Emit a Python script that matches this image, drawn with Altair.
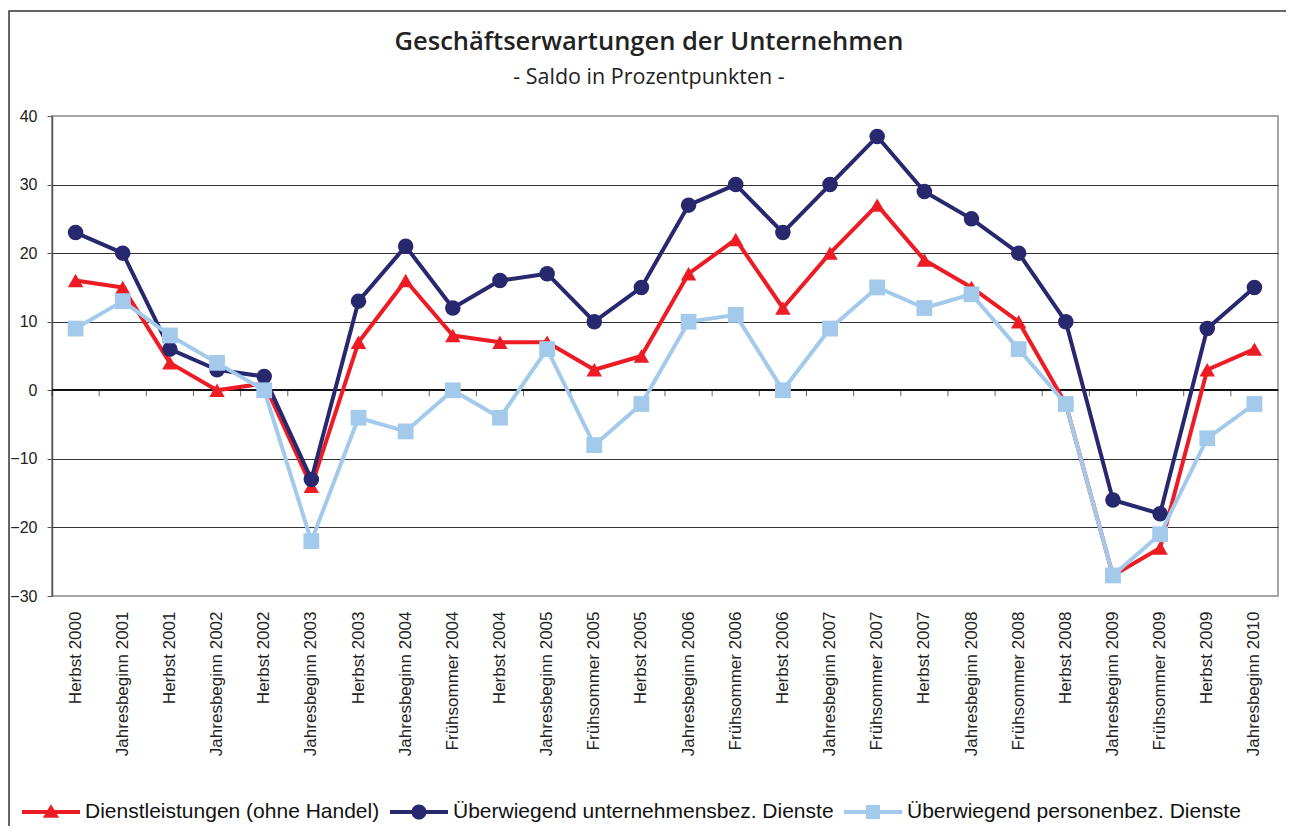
import altair as alt
import pandas as pd

categories = ["Herbst 2000", "Jahresbeginn 2001", "Herbst 2001", "Jahresbeginn 2002", "Herbst 2002",
              "Jahresbeginn 2003", "Herbst 2003", "Jahresbeginn 2004", "Frühsommer 2004", "Herbst 2004",
              "Jahresbeginn 2005", "Frühsommer 2005", "Herbst 2005", "Jahresbeginn 2006", "Frühsommer 2006",
              "Herbst 2006", "Jahresbeginn 2007", "Frühsommer 2007", "Herbst 2007", "Jahresbeginn 2008",
              "Frühsommer 2008", "Herbst 2008", "Jahresbeginn 2009", "Frühsommer 2009", "Herbst 2009",
              "Jahresbeginn 2010"]
dienstleistungen = [16, 15, 4, 0, 1, -14, 7, 16, 8, 7, 7, 3, 5, 17, 22, 12, 20, 27, 19, 15, 10, -2, -27, -23, 3, 6]
unternehmensbez = [23, 20, 6, 3, 2, -13, 13, 21, 12, 16, 17, 10, 15, 27, 30, 23, 30, 37, 29, 25, 20, 10, -16, -18, 9, 15]
personenbez = [9, 13, 8, 4, 0, -22, -4, -6, 0, -4, 6, -8, -2, 10, 11, 0, 9, 15, 12, 14, 6, -2, -27, -21, -7, -2]

series_names = ["Dienstleistungen (ohne Handel)",
                "Überwiegend unternehmensbez. Dienste",
                "Überwiegend personenbez. Dienste"]
series_values = [dienstleistungen, unternehmensbez, personenbez]
colors = ["#ED1C24", "#28286E", "#A3CAEB"]
shapes = ["triangle-up", "circle", "square"]
y_ticks = [-30, -20, -10, 0, 10, 20, 30, 40]

rows = []
for name, vals in zip(series_names, series_values):
    for c, v in zip(categories, vals):
        rows.append({"Kategorie": c, "Reihe": name, "Wert": v})
df = pd.DataFrame(rows)
cat_df = pd.DataFrame({"Kategorie": categories, "Null": [0] * len(categories)})

W, H = 1226, 480
y_min, y_max = -30, 40

# legend symbol paths (line + marker), unit = half symbol width
line_path = "M-1,-0.07H1V0.07H-1Z"
marker_paths = [
    "M0,-0.27L0.28,0.2H-0.28Z",
    "M-0.26,0A0.26,0.26 0 0,1 0.26,0A0.26,0.26 0 0,1 -0.26,0Z",
    "M-0.24,-0.24H0.24V0.24H-0.24Z",
]
legend_paths = [line_path + m for m in marker_paths]

legend = alt.Legend(
    orient="none", legendX=-30, legendY=667, direction="horizontal", columns=3,
    title=None, symbolSize=3364, labelFont="Liberation Sans", labelFontSize=21,
    labelColor="#111", labelOffset=5, columnPadding=10, padding=0, labelLimit=500,
    symbolStrokeWidth=0, symbolOpacity=1,
)

color_scale = alt.Scale(domain=series_names, range=colors)
shape_scale = alt.Scale(domain=series_names, range=legend_paths)
x_scale = alt.Scale(type="band", paddingInner=0, paddingOuter=0)
y_scale = alt.Scale(domain=[y_min, y_max], nice=False, zero=False)

x_label_axis = alt.Axis(labelAngle=-90, ticks=False, domain=False, grid=False, labelPadding=15,
                        title=None, labelFont="Liberation Sans", labelFontSize=17, labelColor="#222")
y_axis = alt.Axis(values=y_ticks, grid=True,
                  gridColor={"condition": {"test": "datum.value === 40 || datum.value === -30",
                                           "value": "#a6a6a6"}, "value": "#333"},
                  gridWidth=1, domain=True, domainColor="#555", domainWidth=1.5,
                  ticks=True, tickColor="#555", tickSize=5, labelFont="Liberation Sans",
                  labelFontSize=16, labelColor="#222", labelPadding=10, title=None)

x_enc = alt.X("Kategorie:N", sort=categories, scale=x_scale, axis=x_label_axis)
y_enc = alt.Y("Wert:Q", scale=y_scale, axis=y_axis)

# zero line with category boundary ticks
zero_line = alt.Chart(cat_df).mark_rule(color="#111", strokeWidth=1.5).encode(
    y=alt.Y("Null:Q", scale=y_scale), x=alt.value(0), x2=alt.value(W)
)
zero_ticks = alt.Chart(cat_df).mark_tick(orient="vertical", color="#222", thickness=1, size=6,
                                         yOffset=3).encode(
    x=alt.X("Kategorie:N", sort=categories, scale=x_scale, bandPosition=0),
    y=alt.Y("Null:Q", scale=y_scale),
)

layers = [zero_line, zero_ticks]
for i, name in enumerate(series_names):
    sub = alt.Chart(df).transform_filter(alt.datum.Reihe == name)
    line = sub.mark_line(strokeWidth=4, strokeJoin="round", color=colors[i]).encode(
        x=x_enc, y=y_enc,
    )
    pts = sub.mark_point(shape=shapes[i], filled=True, opacity=1, size=240 if i != 2 else 250,
                         color=colors[i]).encode(x=x_enc, y=y_enc)
    layers += [line, pts]

# empty layer that only carries the legend (line + marker symbols)
legend_layer = alt.Chart(df).transform_filter("false").mark_point(filled=True, opacity=1).encode(
    x=x_enc, y=y_enc,
    color=alt.Color("Reihe:N", scale=color_scale, legend=legend),
    shape=alt.Shape("Reihe:N", scale=shape_scale, legend=legend),
)

frame = alt.Chart(pd.DataFrame({"a": [0]})).mark_rect(filled=False, stroke="#333", strokeWidth=1.5).encode(
    x=alt.value(-43), x2=alt.value(1236), y=alt.value(-105), y2=alt.value(735)
)

chart = alt.layer(frame, *layers, legend_layer).properties(
    width=W, height=H,
    padding={"left": 44, "top": 108, "right": 8, "bottom": 230},
    autosize=alt.AutoSizeParams(type="none"),
    title=alt.Title("Geschäftserwartungen der Unternehmen",
                    subtitle="- Saldo in Prozentpunkten -",
                    font="Open Sans", fontSize=25.5, fontWeight=600, color="#222",
                    subtitleFont="Open Sans", subtitleFontSize=21.5, subtitleColor="#222",
                    subtitlePadding=11, anchor="middle", offset=-78, dx=-16),
).configure_view(stroke="#a6a6a6", strokeWidth=2)

chart.save("out.html", embed_options={"renderer": "svg", "actions": False})
